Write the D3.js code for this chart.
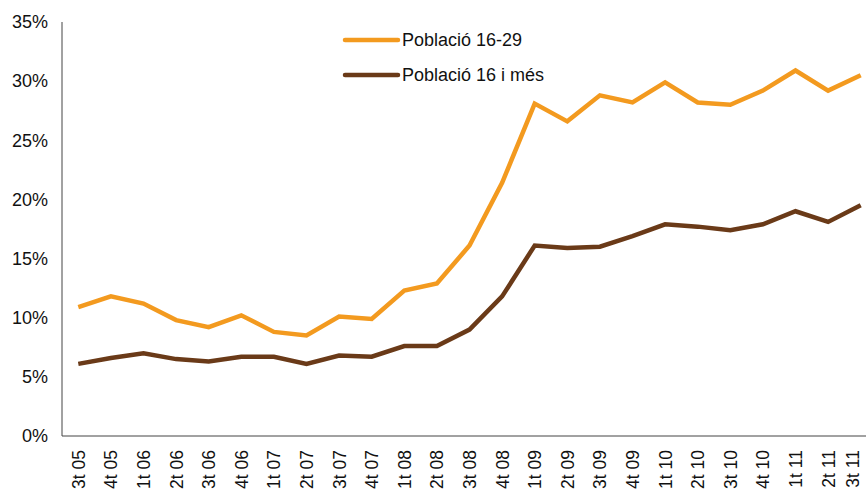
<!DOCTYPE html>
<html>
<head>
<meta charset="utf-8">
<script src="https://cdn.jsdelivr.net/npm/d3@7"></script>
<style>
  body { margin: 0; background: #fff; }
  svg { display: block; font-family: "Liberation Sans", Arial, sans-serif; }
</style>
</head>
<body>
<div id="chart"></div>
<script>
const periods = ["3t 05","4t 05","1t 06","2t 06","3t 06","4t 06","1t 07","2t 07","3t 07","4t 07",
  "1t 08","2t 08","3t 08","4t 08","1t 09","2t 09","3t 09","4t 09","1t 10","2t 10","3t 10","4t 10",
  "1t 11","2t 11","3t 11"];
const young = [10.9, 11.8, 11.2, 9.8, 9.2, 10.2, 8.8, 8.5, 10.1, 9.9,
  12.3, 12.9, 16.1, 21.4, 28.1, 26.6, 28.8, 28.2, 29.9, 28.2, 28.0, 29.2,
  30.9, 29.2, 30.5];
const all = [6.1, 6.6, 7.0, 6.5, 6.3, 6.7, 6.7, 6.1, 6.8, 6.7,
  7.6, 7.6, 9.0, 11.8, 16.1, 15.9, 16.0, 16.9, 17.9, 17.7, 17.4, 17.9,
  19.0, 18.1, 19.5];
const yTicks = [0, 5, 10, 15, 20, 25, 30, 35];

const series = [
  { name: "Població 16-29", values: young, color: "#F39A1F" },
  { name: "Població 16 i més", values: all, color: "#6A3A18" }
];

const W = 866, H = 492;
const mLeft = 62, mTop = 22, mBottom = 436;

const svg = d3.select("#chart").append("svg").attr("width", W).attr("height", H);

const x = d3.scaleBand().domain(periods).range([mLeft, mLeft + 25 * 32.6]);
const y = d3.scaleLinear().domain([0, 35]).range([mBottom, mTop]);

// axes
svg.append("line").attr("x1", mLeft).attr("x2", W).attr("y1", mBottom).attr("y2", mBottom)
  .attr("stroke", "#444").attr("stroke-width", 1);
svg.append("line").attr("x1", mLeft).attr("x2", mLeft).attr("y1", mTop).attr("y2", mBottom)
  .attr("stroke", "#444").attr("stroke-width", 1);

svg.append("g").selectAll("text")
  .data(yTicks)
  .join("text")
    .attr("x", 48)
    .attr("y", d => y(d))
    .attr("dy", "0.35em")
    .attr("text-anchor", "end")
    .style("font-size", "18px")
    .attr("fill", "#111")
    .text(d => d + "%");

svg.append("g").selectAll("text")
  .data(periods)
  .join("text")
    .attr("transform", d => `translate(${Math.min(x(d) + x.bandwidth() / 2 + 6.5, 859)},450) rotate(-90)`)
    .attr("text-anchor", "end")
    .style("font-size", "17.5px")
    .attr("fill", "#111")
    .text(d => d);

const line = d3.line()
  .x((d, i) => x(periods[i]) + x.bandwidth() / 2)
  .y(d => y(d));

svg.append("g").selectAll("path")
  .data(series)
  .join("path")
    .attr("fill", "none")
    .attr("stroke", d => d.color)
    .attr("stroke-width", 4.5)
    .attr("stroke-linejoin", "miter")
    .attr("d", d => line(d.values));

// legend
const legend = svg.append("g").selectAll("g")
  .data(series)
  .join("g")
    .attr("transform", (d, i) => `translate(345,${40 + i * 35})`);
legend.append("line")
  .attr("x1", 0).attr("x2", 53)
  .attr("stroke", d => d.color).attr("stroke-width", 4.5).attr("stroke-linecap", "round");
legend.append("text")
  .attr("x", 57).attr("dy", "0.35em")
  .style("font-size", "18px")
  .attr("fill", "#111")
  .text(d => d.name);
</script>
</body>
</html>
